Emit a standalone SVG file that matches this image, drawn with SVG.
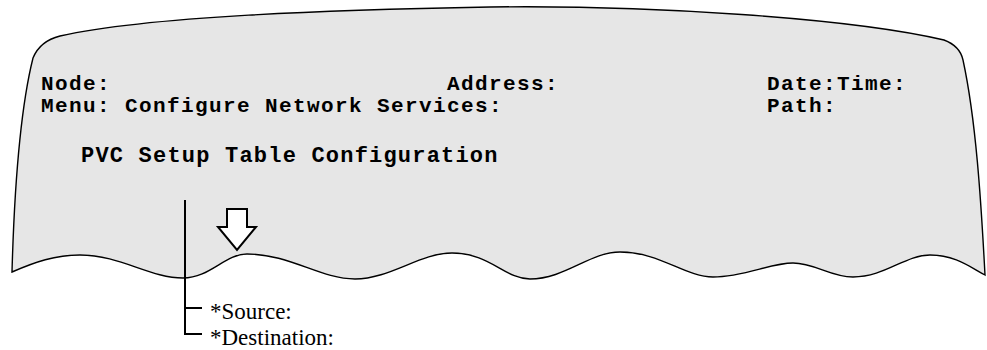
<svg xmlns="http://www.w3.org/2000/svg" width="987" height="350" viewBox="0 0 987 350">
  <style>
    .screen { fill: #e6e6e6; stroke: #000; stroke-width: 1.4; }
    .mono { font-family: "Liberation Mono", "Courier New", monospace; font-weight: bold; font-size: 21px; letter-spacing: 1.4px; fill: #000; }
    .title { font-size: 22px; letter-spacing: 1.2px; }
    .serif { font-family: "Liberation Serif", "Times New Roman", serif; font-size: 23px; fill: #000; }
    .bracket { fill: none; stroke: #000; stroke-width: 2; }
    .arrow { fill: #fff; stroke: #000; stroke-width: 2; stroke-linejoin: miter; }
  </style>

  <!-- terminal screen with torn bottom edge -->
  <g id="screen">
    <path class="screen" d="M 12,272
      C 35,262 55,255 80,255
      C 120,255 150,278 183,278
      C 210,278 225,254 247,254
      C 290,254 320,279 355,279
      C 390,279 420,253 452,253
      C 490,253 505,279 530,279
      C 565,279 590,252 620,252
      C 660,252 685,277 713,277
      C 745,277 770,263 793,263
      C 815,263 830,277 853,277
      C 885,277 905,255 930,255
      C 955,255 970,267 985,275
      C 981,200 976,120 963,60
      Q 960,46 944,40
      C 850,18 650,5 490,7
      C 330,10 150,16 60,36
      Q 40,41 33,58
      C 20,110 14,200 12,272 Z"/>
  </g>

  <!-- header lines -->
  <g id="header">
    <text class="mono" x="41" y="90">Node:</text>
    <text class="mono" x="447" y="90">Address:</text>
    <text class="mono" x="767" y="90">Date:Time:</text>
    <text class="mono" x="41" y="112">Menu: Configure Network Services:</text>
    <text class="mono" x="767" y="112">Path:</text>
  </g>

  <g id="screen-title">
    <text class="mono title" x="81" y="162">PVC Setup Table Configuration</text>
  </g>

  <!-- down arrow -->
  <g id="down-arrow">
    <polygon class="arrow" points="227,209 247,209 247,227 256,227 237,250 218,227 227,227"/>
  </g>

  <!-- bracket to the field list -->
  <g id="connectors">
    <path class="bracket" d="M 185,200 V 334 H 202 M 185,308 H 202"/>
  </g>

  <g id="fields">
    <text class="serif" x="210" y="319">*Source:</text>
    <text class="serif" x="210" y="345">*Destination:</text>
  </g>
</svg>
